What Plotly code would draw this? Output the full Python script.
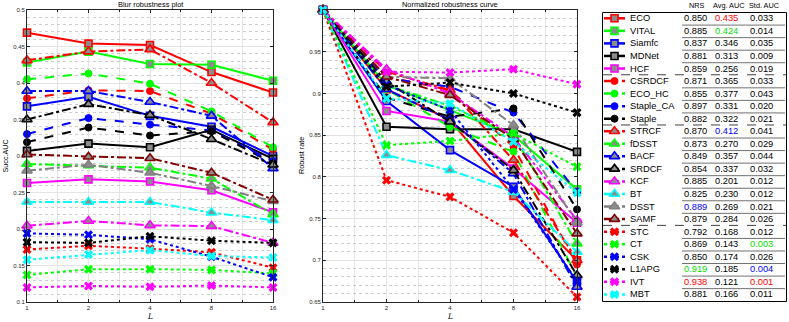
import numpy as np
import plotly.graph_objects as go

# ---------------- data ----------------
L_vals = [1, 2, 4, 8, 16]
L_ticks = ["1", "2", "4", "8", "16"]

names = ["ECO", "VITAL", "Siamfc", "MDNet", "HCF",
         "CSRDCF", "ECO_HC", "Staple_CA", "Staple",
         "STRCF", "fDSST", "BACF", "SRDCF", "KCF", "BT", "DSST", "SAMF",
         "STC", "CT", "CSK", "L1APG", "IVT", "MBT"]

# Blur robustness plot (Succ. AUC vs L)
auc_ECO = [0.469, 0.454, 0.452, 0.415, 0.387]
auc_VITAL = [0.428, 0.443, 0.426, 0.425, 0.403]
auc_Siamfc = [0.368, 0.381, 0.355, 0.340, 0.300]
auc_MDNet = [0.307, 0.317, 0.312, 0.336, 0.296]
auc_HCF = [0.263, 0.268, 0.265, 0.253, 0.223]
auc_CSRDCF = [0.379, 0.390, 0.389, 0.358, 0.309]
auc_ECO_HC = [0.405, 0.413, 0.399, 0.361, 0.312]
auc_Staple_CA = [0.330, 0.352, 0.343, 0.335, 0.293]
auc_Staple = [0.319, 0.339, 0.328, 0.334, 0.290]
auc_STRCF = [0.431, 0.443, 0.446, 0.400, 0.346]
auc_fDSST = [0.289, 0.287, 0.284, 0.269, 0.220]
auc_BACF = [0.389, 0.389, 0.374, 0.355, 0.283]
auc_SRDCF = [0.350, 0.371, 0.356, 0.323, 0.288]
auc_KCF = [0.2045, 0.211, 0.205, 0.204, 0.181]
auc_BT = [0.237, 0.237, 0.237, 0.2225, 0.212]
auc_DSST = [0.280, 0.288, 0.277, 0.259, 0.238]
auc_SAMF = [0.302, 0.299, 0.297, 0.277, 0.240]
auc_STC = [0.172, 0.177, 0.173, 0.168, 0.147]
auc_CT = [0.137, 0.145, 0.145, 0.144, 0.139]
auc_CSK = [0.194, 0.192, 0.186, 0.162, 0.134]
auc_L1APG = [0.182, 0.181, 0.190, 0.184, 0.181]
auc_IVT = [0.120, 0.122, 0.121, 0.1225, 0.120]
auc_MBT = [0.158, 0.165, 0.171, 0.163, 0.161]

# Normalized robustness curve (Robust rate vs L)
rob_ECO = [1.0, 0.905, 0.868, 0.777, 0.700]
rob_VITAL = [1.0, 0.910, 0.880, 0.850, 0.785]
rob_Siamfc = [1.0, 0.891, 0.832, 0.788, 0.674]
rob_MDNet = [1.0, 0.860, 0.857, 0.857, 0.830]
rob_HCF = [1.0, 0.879, 0.866, 0.810, 0.745]
rob_CSRDCF = [1.0, 0.920, 0.904, 0.836, 0.695]
rob_ECO_HC = [1.0, 0.905, 0.860, 0.830, 0.680]
rob_Staple_CA = [1.0, 0.918, 0.908, 0.877, 0.782]
rob_Staple = [1.0, 0.895, 0.872, 0.882, 0.761]
rob_STRCF = [1.0, 0.926, 0.904, 0.820, 0.700]
rob_fDSST = [1.0, 0.910, 0.885, 0.850, 0.720]
rob_BACF = [1.0, 0.905, 0.868, 0.804, 0.668]
rob_SRDCF = [1.0, 0.914, 0.866, 0.808, 0.682]
rob_KCF = [1.0, 0.929, 0.900, 0.848, 0.748]
rob_BT = [1.0, 0.826, 0.808, 0.782, 0.710]
rob_DSST = [1.0, 0.920, 0.918, 0.862, 0.745]
rob_SAMF = [1.0, 0.920, 0.898, 0.845, 0.732]
rob_STC = [1.0, 0.796, 0.776, 0.733, 0.656]
rob_CT = [1.0, 0.838, 0.843, 0.852, 0.812]
rob_CSK = [1.0, 0.910, 0.880, 0.785, 0.675]
rob_L1APG = [1.0, 0.908, 0.913, 0.900, 0.877]
rob_IVT = [1.0, 0.926, 0.925, 0.929, 0.911]
rob_MBT = [1.0, 0.894, 0.888, 0.842, 0.781]

nrs = [0.850, 0.885, 0.837, 0.881, 0.859, 0.871, 0.855, 0.897, 0.882, 0.870, 0.873, 0.849,
       0.854, 0.885, 0.825, 0.889, 0.879, 0.792, 0.869, 0.850, 0.919, 0.938, 0.881]
avg_auc = [0.435, 0.424, 0.346, 0.313, 0.256, 0.365, 0.377, 0.331, 0.322, 0.412, 0.270, 0.357,
           0.337, 0.201, 0.230, 0.269, 0.284, 0.168, 0.143, 0.174, 0.185, 0.121, 0.166]
std_auc = [0.033, 0.014, 0.035, 0.009, 0.019, 0.033, 0.043, 0.020, 0.021, 0.041, 0.029, 0.044,
           0.032, 0.012, 0.012, 0.021, 0.026, 0.012, 0.003, 0.026, 0.004, 0.001, 0.011]

auc_data = [auc_ECO, auc_VITAL, auc_Siamfc, auc_MDNet, auc_HCF, auc_CSRDCF, auc_ECO_HC,
            auc_Staple_CA, auc_Staple, auc_STRCF, auc_fDSST, auc_BACF, auc_SRDCF, auc_KCF,
            auc_BT, auc_DSST, auc_SAMF, auc_STC, auc_CT, auc_CSK, auc_L1APG, auc_IVT, auc_MBT]
rob_data = [rob_ECO, rob_VITAL, rob_Siamfc, rob_MDNet, rob_HCF, rob_CSRDCF, rob_ECO_HC,
            rob_Staple_CA, rob_Staple, rob_STRCF, rob_fDSST, rob_BACF, rob_SRDCF, rob_KCF,
            rob_BT, rob_DSST, rob_SAMF, rob_STC, rob_CT, rob_CSK, rob_L1APG, rob_IVT, rob_MBT]

# ---------------- styles ----------------
RED, GREEN, BLUE, BLACK = "#FF0000", "#00FF00", "#0000FF", "#000000"
MAG, CYAN, GRAY, DRED = "#FF00FF", "#00FFFF", "#808080", "#800000"
colors = [RED, GREEN, BLUE, BLACK, MAG,
          RED, GREEN, BLUE, BLACK,
          RED, GREEN, BLUE, BLACK, MAG, CYAN, GRAY, DRED,
          RED, GREEN, BLUE, BLACK, MAG, CYAN]
groups = ["sq"] * 5 + ["ci"] * 4 + ["tr"] * 8 + ["x"] * 6
dash_of = {"sq": "solid", "ci": "dash", "tr": "dashdot", "x": "dot"}

highlight = {(0, 1): RED, (1, 1): "#00DD00", (9, 1): BLUE, (15, 0): BLUE,
             (18, 2): "#00DD00", (20, 0): "#00DD00", (20, 2): BLUE,
             (21, 0): RED, (21, 2): RED}


def marker_of(g, c, scale=1.0):
    if g == "sq":
        return dict(symbol="square", size=7 * scale, color="#8c8c8c", line=dict(color=c, width=1.6))
    if g == "tr":
        return dict(symbol="triangle-up", size=9 * scale, color="#8c8c8c", line=dict(color=c, width=1.6))
    if g == "ci":
        return dict(symbol="circle", size=7 * scale, color=c, line=dict(color=c, width=1))
    return dict(symbol="x", size=8 * scale, color=c, line=dict(color=c, width=0))


W, H = 789, 322
fig = go.Figure()

for i, n in enumerate(names):
    g = groups[i]
    c = colors[i]
    for xa, ya, data in (("x", "y", auc_data[i]), ("x2", "y2", rob_data[i])):
        fig.add_trace(go.Scatter(
            x=L_vals, y=data, xaxis=xa, yaxis=ya, mode="lines+markers", name=n,
            line=dict(color=c, width=2, dash=dash_of[g]),
            marker=marker_of(g, c), cliponaxis=False, showlegend=False))

# ---------------- legend table (pixel-like coordinates on x3/y3) ----------------
row0, dy = 18.3, 12.55
row_y = [row0 + k * dy for k in range(len(names))]
for i, n in enumerate(names):
    g = groups[i]
    c = colors[i]
    yy = row_y[i]
    fig.add_trace(go.Scatter(
        x=[604, 614.5, 625], y=[yy, yy, yy], xaxis="x3", yaxis="y3", mode="lines",
        line=dict(color=c, width=2.5, dash=dash_of[g]), cliponaxis=False, showlegend=False,
        hoverinfo="skip"))
    fig.add_trace(go.Scatter(
        x=[614.5], y=[yy], xaxis="x3", yaxis="y3", mode="markers",
        marker=marker_of(g, c, 1.0), cliponaxis=False, showlegend=False, hoverinfo="skip"))

annotations = []
shapes = []
FONT = "Liberation Sans, Arial, Helvetica, sans-serif"

col_x = [695.5, 726.0, 761.0]
for i, n in enumerate(names):
    yy = row_y[i]
    annotations.append(dict(x=628, y=yy, xref="x3", yref="y3", text=n, showarrow=False,
                            xanchor="left", yanchor="middle",
                            font=dict(family=FONT, size=9.3, color="#000000")))
    for j, vals in enumerate((nrs, avg_auc, std_auc)):
        annotations.append(dict(x=col_x[j], y=yy, xref="x3", yref="y3",
                                text=f"{vals[i]:.3f}", showarrow=False,
                                xanchor="center", yanchor="middle",
                                font=dict(family=FONT, size=9.3,
                                          color=highlight.get((i, j), "#000000"))))

for txt, xx in (("NRS", 696.5), ("Avg. AUC", 728.5), ("Std. AUC", 764.0)):
    annotations.append(dict(x=xx, y=5, xref="x3", yref="y3", text=txt, showarrow=False,
                            xanchor="center", yanchor="middle",
                            font=dict(family=FONT, size=7.3, color="#000000")))

group_breaks = [4, 8, 16]
for k in range(len(names) - 1):
    ysep = row0 + (k + 0.5) * dy
    if k in group_breaks:
        shapes.append(dict(type="line", xref="x3", yref="y3", x0=603, x1=786, y0=ysep, y1=ysep,
                           line=dict(color="#404040", width=1, dash="dash")))
    else:
        shapes.append(dict(type="line", xref="x3", yref="y3", x0=682, x1=785, y0=ysep + 0.5,
                           y1=ysep + 0.5, line=dict(color="#707070", width=1)))
shapes.append(dict(type="rect", xref="x3", yref="y3", x0=602.5, x1=786.5, y0=12.5, y1=301.5,
                   line=dict(color="#000000", width=1)))

# ---------------- titles / axis labels ----------------
def px(xp):
    return xp / W


def py(yp):
    return 1 - yp / H


for txt, xx in (("Blur robustness plot", 150), ("Normalized robustness curve", 450)):
    annotations.append(dict(x=px(xx), y=py(4.5), xref="paper", yref="paper", text=txt,
                            showarrow=False, xanchor="center", yanchor="middle",
                            font=dict(family=FONT, size=7.4, color="#000000")))
for txt, xx in (("Succ.AUC", 4.5), ("Robust rate", 301)):
    annotations.append(dict(x=px(xx), y=py(156), xref="paper", yref="paper", text=txt,
                            showarrow=False, xanchor="center", yanchor="middle", textangle=-90,
                            font=dict(family=FONT, size=7.2, color="#000000")))
for xx in (150, 450):
    annotations.append(dict(x=px(xx), y=py(316.5), xref="paper", yref="paper", text="<i>L</i>",
                            showarrow=False, xanchor="center", yanchor="middle",
                            font=dict(family="DejaVu Serif, serif", size=7.5, color="#000000")))

AX = "#262626"
GRID = "#e4e4e4"
MINOR_X = [1.414, 2.828, 5.657, 11.314]


def xaxis_cfg(dom, anchor):
    return dict(domain=dom, anchor=anchor, type="log", range=[0, np.log10(16)],
                tickvals=L_vals, ticktext=L_ticks, ticks="inside", ticklen=3, tickcolor=AX,
                tickwidth=0.8, showline=True, linecolor=AX, linewidth=0.8, mirror="ticks",
                showgrid=True, gridcolor=GRID, gridwidth=0.8, zeroline=False, automargin=False,
                tickfont=dict(family=FONT, size=6, color=AX),
                minor=dict(tickvals=MINOR_X, ticks="inside", ticklen=2, tickcolor=AX,
                           showgrid=True, gridcolor=GRID, gridwidth=0.8))


def yaxis_cfg(anchor, rng, tv, tt):
    return dict(domain=[py(302), py(10)], anchor=anchor, range=rng, tickvals=tv, ticktext=tt,
                ticks="inside", ticklen=3, tickcolor=AX, tickwidth=0.8, showline=True,
                linecolor=AX, linewidth=0.8, mirror="ticks", showgrid=True, gridcolor=GRID,
                gridwidth=0.8, zeroline=False, automargin=False,
                tickfont=dict(family=FONT, size=6, color=AX),
                minor=dict(dtick=0.01, tick0=0, showgrid=True, gridcolor="#cdcdcd",
                           griddash="dot", gridwidth=0.8, ticks=""))


y1_ticks = [0.1, 0.15, 0.2, 0.25, 0.3, 0.35, 0.4, 0.45, 0.5]
y1_text = ["0.1", "0.15", "0.2", "0.25", "0.3", "0.35", "0.4", "0.45", "0.5"]
y2_ticks = [0.65, 0.7, 0.75, 0.8, 0.85, 0.9, 0.95, 1.0]
y2_text = ["0.65", "0.7", "0.75", "0.8", "0.85", "0.9", "0.95", "1"]

fig.update_layout(
    width=W, height=H, margin=dict(l=0, r=0, t=0, b=0),
    paper_bgcolor="white", plot_bgcolor="white", showlegend=False,
    font=dict(family=FONT, size=7, color="#000000"),
    xaxis=xaxis_cfg([px(27), px(273)], "y"),
    yaxis=yaxis_cfg("x", [0.1, 0.5], y1_ticks, y1_text),
    xaxis2=xaxis_cfg([px(323), px(577)], "y2"),
    yaxis2=yaxis_cfg("x2", [0.65, 1.0], y2_ticks, y2_text),
    xaxis3=dict(domain=[px(600), 1.0], anchor="y3", range=[600, 789], visible=False,
                fixedrange=True),
    yaxis3=dict(domain=[0, 1], anchor="x3", range=[322, 0], visible=False, fixedrange=True),
    annotations=annotations, shapes=shapes,
)

fig.write_html("out.html", config={"displayModeBar": False},
               post_script="document.body.style.margin='0px';document.body.style.overflow='hidden';")
